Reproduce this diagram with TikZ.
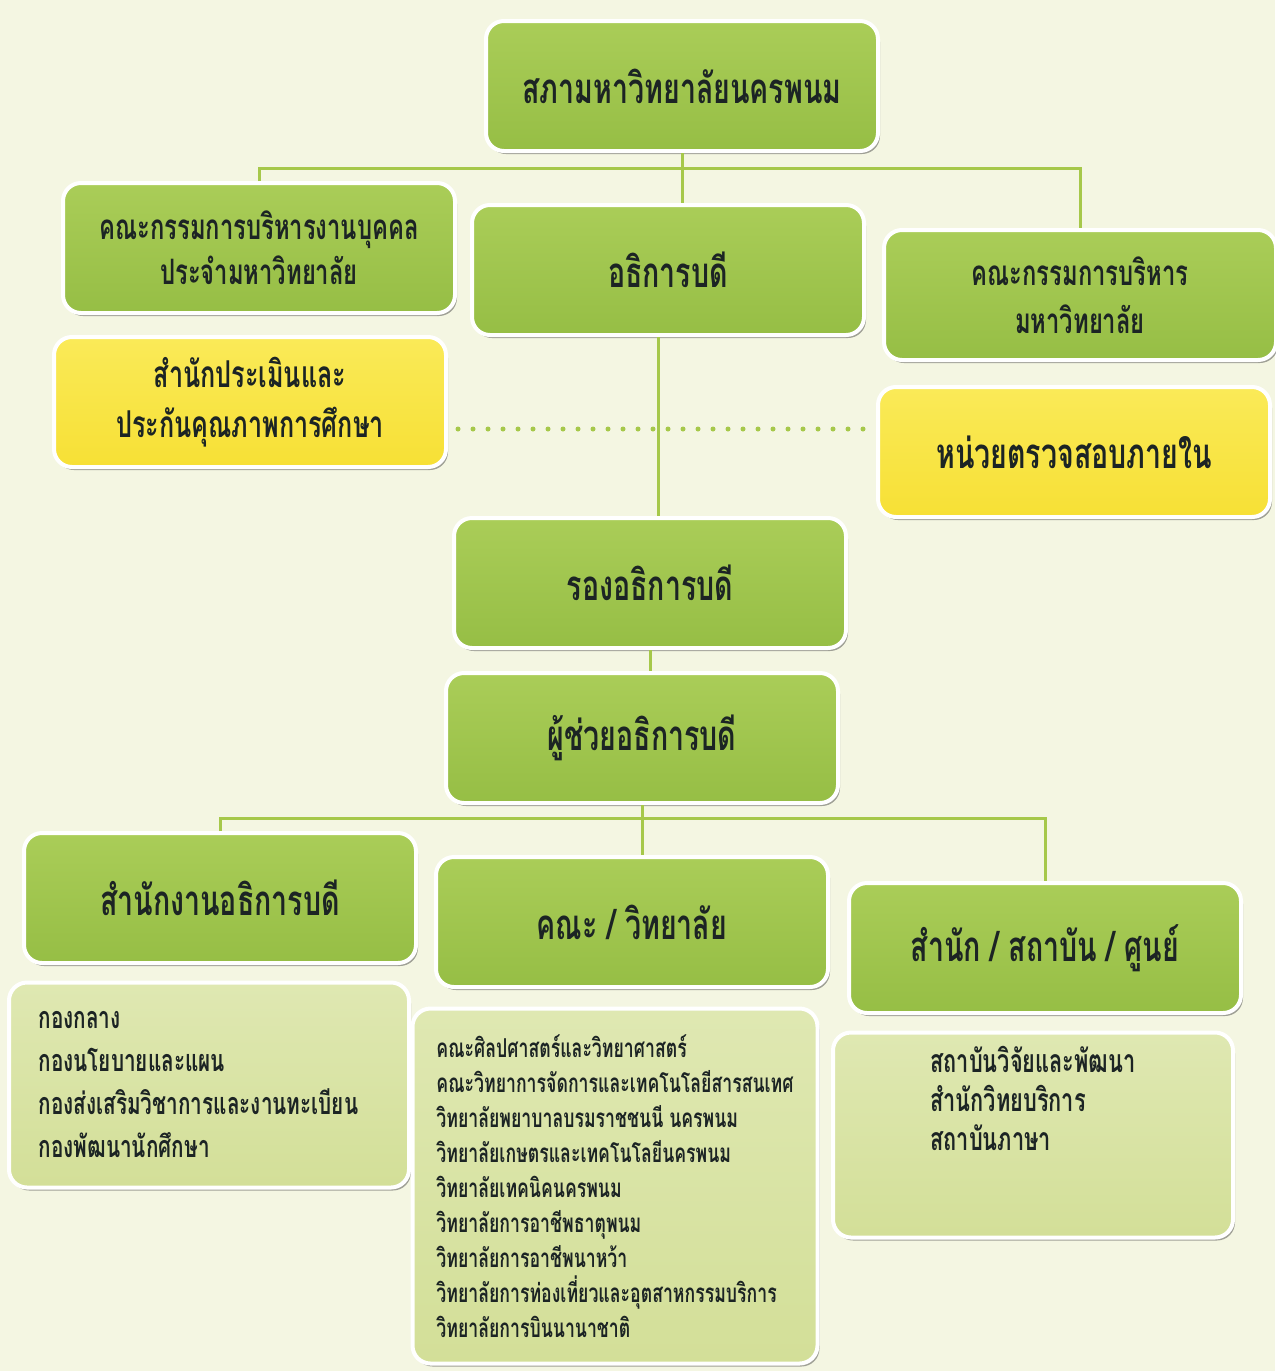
\documentclass[tikz,border=0pt]{standalone}
\usepackage{fontspec}
\usepackage{xcolor}
\usetikzlibrary{shadows,positioning,calc}
\newfontfamily\thaifont[Script=Thai,FakeStretch=0.68]{Loma}
\definecolor{mcream}{HTML}{F4F6E2}
\definecolor{mgreen}{HTML}{96BE45}
\definecolor{mgreenl}{HTML}{AACD58}
\definecolor{myellow}{HTML}{F7E035}
\definecolor{myellowl}{HTML}{FAEA58}
\definecolor{mpale}{HTML}{D3DF98}
\definecolor{mpalel}{HTML}{DFE8B2}
\definecolor{mline}{HTML}{A6C84A}
\definecolor{mink}{HTML}{1C2424}
\tikzstyle{l1}=[line width=3]
\tikzstyle{box}=[rectangle, rounded corners=18, draw=white, line width=4, minimum width=392, minimum height=130, align=center, text=mink, drop shadow={shadow xshift=2pt, shadow yshift=-3pt, fill=black!70, opacity=.5}]
\tikzstyle{greenbox}=[box, top color=mgreenl, bottom color=mgreen, font=\thaifont\bfseries\fontsize{42}{48}\selectfont]
\tikzstyle{yellowbox}=[box, top color=myellowl, bottom color=myellow, font=\thaifont\bfseries\fontsize{37}{50}\selectfont]
\tikzstyle{listbox}=[box, top color=mpalel, bottom color=mpale, align=left, minimum width=400]
\tikzstyle{link}=[l1, color=mline]
\tikzstyle{dotlink}=[line width=5, line cap=round, dash pattern=on 0pt off 15pt, color=mline, shorten <=10, shorten >=10]

\begin{document}
\begin{tikzpicture}[x=1pt, y=-1pt]
    \fill[mcream] (0,0) rectangle (1275,1371);
    \useasboundingbox (0,0) rectangle (1275,1371);

    % top level
    \node (council) [greenbox] at (682,86) {สภามหาวิทยาลัยนครพนม};
    \node (pcomm) [greenbox, font=\thaifont\bfseries\fontsize{35}{45}\selectfont] at (259,248) {คณะกรรมการบริหารงานบุคคล\\ประจำมหาวิทยาลัย};
    \node (rector) [greenbox] at (668,270) {อธิการบดี};
    \node (ecomm) [greenbox, font=\thaifont\bfseries\fontsize{35}{48}\selectfont] at (1080,295) {คณะกรรมการบริหาร\\มหาวิทยาลัย};
    \node (qa) [yellowbox] at (250,402) {สำนักประเมินและ\\ประกันคุณภาพการศึกษา};
    \node (audit) [yellowbox, font=\thaifont\bfseries\fontsize{42}{48}\selectfont] at (1074,452) {หน่วยตรวจสอบภายใน};
    \node (vrector) [greenbox] at (650,583) {รองอธิการบดี};
    \node (arector) [greenbox] at (642,738) {ผู้ช่วยอธิการบดี};

    % units
    \node (office) [greenbox] at (220,898) {สำนักงานอธิการบดี};
    \node (faculty) [greenbox] at (632,922) {คณะ / วิทยาลัย};
    \node (inst) [greenbox] at (1045,948) {สำนัก / สถาบัน / ศูนย์};

    \node (officelist) [listbox, minimum height=205] at (209,1085) {};
    \node (officenames) [anchor=west, xshift=28pt, align=left, text=mink, font=\thaifont\bfseries\fontsize{30.5}{43}\selectfont] at (officelist.west)
        {กองกลาง\\กองนโยบายและแผน\\กองส่งเสริมวิชาการและงานทะเบียน\\กองพัฒนานักศึกษา};
    \node (facultylist) [listbox, minimum width=405, minimum height=355, font=\thaifont\bfseries\fontsize{26}{35}\selectfont] at (615,1186)
        {คณะศิลปศาสตร์และวิทยาศาสตร์\\คณะวิทยาการจัดการและเทคโนโลยีสารสนเทศ\\วิทยาลัยพยาบาลบรมราชชนนี นครพนม\\วิทยาลัยเกษตรและเทคโนโลยีนครพนม\\วิทยาลัยเทคนิคนครพนม\\วิทยาลัยการอาชีพธาตุพนม\\วิทยาลัยการอาชีพนาหว้า\\วิทยาลัยการท่องเที่ยวและอุตสาหกรรมบริการ\\วิทยาลัยการบินนานาชาติ};
    \node (instlist) [listbox, minimum height=205] at (1033,1135) {};
    \node (instnames) [anchor=north, yshift=-12pt, align=left, text=mink, font=\thaifont\bfseries\fontsize{32}{39}\selectfont] at (instlist.north)
        {สถาบันวิจัยและพัฒนา\\สำนักวิทยบริการ\\สถาบันภาษา};

    % connectors
    \coordinate (topbar) at (675,168);
    \coordinate (dotmid) at (658,429);
    \coordinate (botbar) at (635,818);
    \draw[link] (pcomm.north) |- (topbar) -| (ecomm.north);
    \draw[link] (council.south) -- (council.south |- rector.north);
    \draw[link] (rector.south -| dotmid) -- (vrector.north -| dotmid);
    \draw[link] (vrector.south) -- (vrector.south |- arector.north);
    \draw[link] (office.north) |- (botbar) -| (inst.north);
    \draw[link] (arector.south) -- (arector.south |- faculty.north);
    \draw[dotlink] (qa.east |- dotmid) -- (audit.west |- dotmid);

\end{tikzpicture}
\end{document}
